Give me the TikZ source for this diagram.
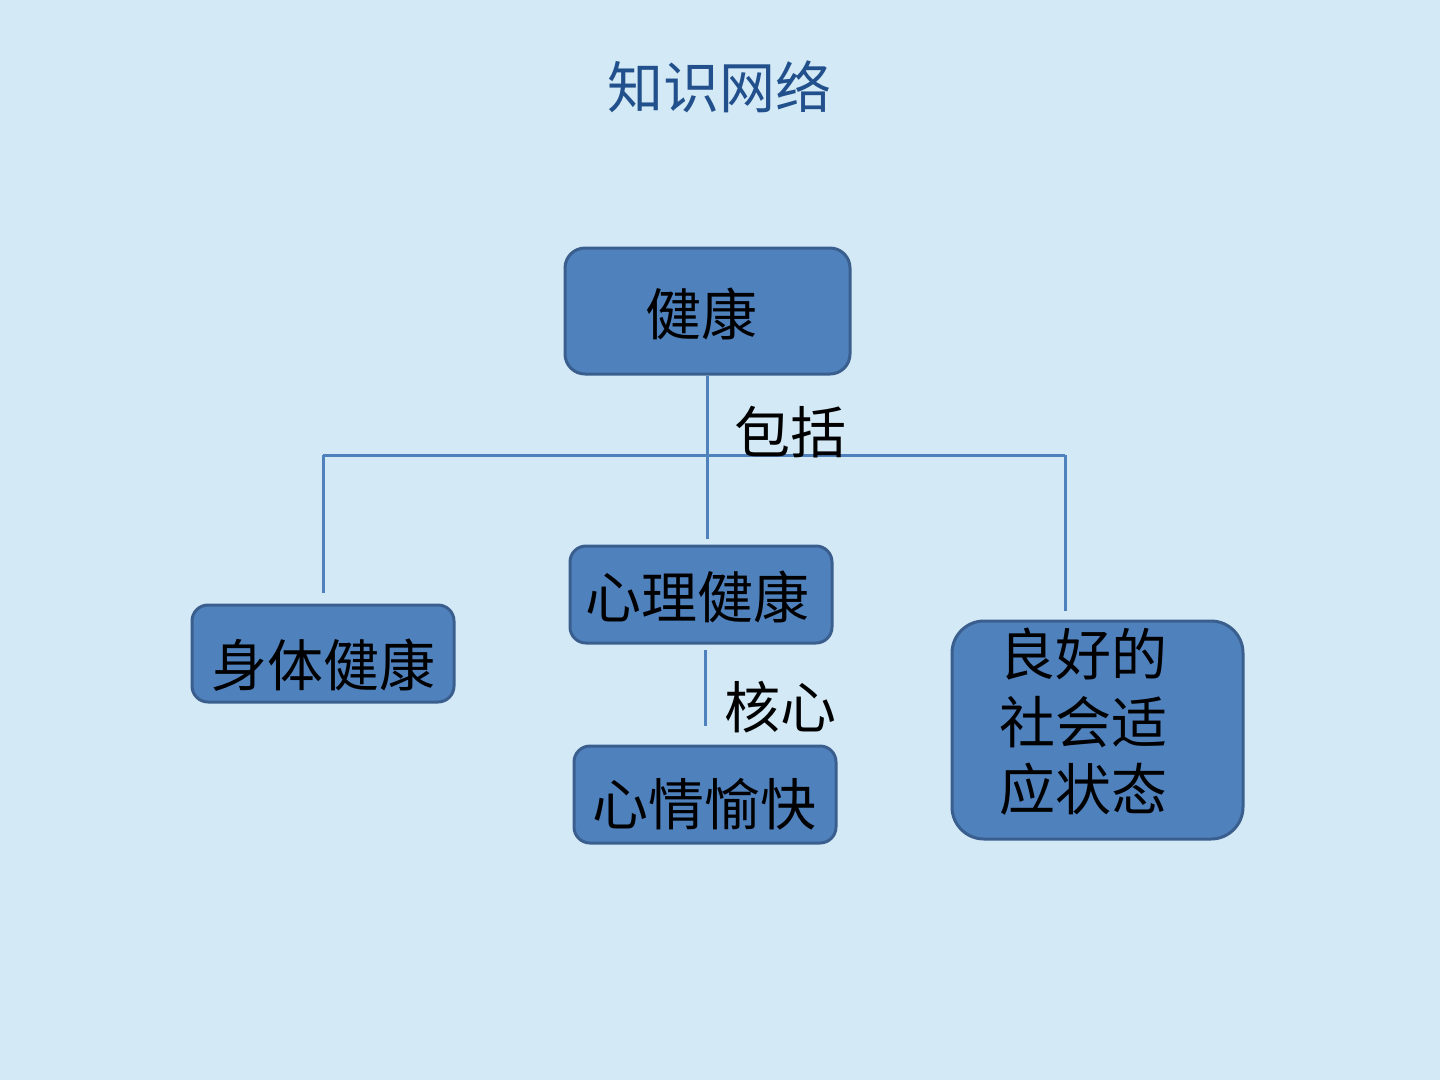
\documentclass[tikz,border=0pt]{standalone}
\usepackage{fontspec}
\newfontfamily\cjk{Noto Sans CJK SC}
\definecolor{bgblue}{HTML}{D3E9F5}
\definecolor{boxfill}{HTML}{4F81BD}
\definecolor{boxline}{HTML}{3A5F8E}
\definecolor{conn}{HTML}{4F81BD}
\definecolor{titleblue}{HTML}{22508C}
\begin{document}
\begin{tikzpicture}[x=1pt,y=-1pt,
  box/.style={draw=boxline, fill=boxfill, line width=3pt, rounded corners=16pt, inner sep=0pt},
  boxtxt/.style={font=\cjk\fontsize{56}{67.5}\selectfont, text=black, inner sep=0pt},
  lbl/.style={font=\cjk\fontsize{56}{67.5}\selectfont, text=black, inner sep=0pt},
  connector/.style={draw=conn, line width=3pt}]
\useasboundingbox (0,0) rectangle (1440,1080);
\fill[bgblue] (0,0) rectangle (1440,1080);

% title
\node[font=\cjk\fontsize{56}{60}\selectfont, text=titleblue, inner sep=0pt] (title) at (719,87) {知识网络};

% boxes
\node[box, minimum width=285pt, minimum height=126pt, rounded corners=20pt] (health) at (707.5,311) {};
\node[boxtxt] (healthT) at (701,314) {健康};

\node[box, minimum width=262pt, minimum height=97pt] (body) at (323,653.5) {};
\node[boxtxt] (bodyT) at (323,665) {身体健康};

\node[box, minimum width=262pt, minimum height=97pt] (mental) at (701,594.5) {};
\node[boxtxt] (mentalT) at (697,597) {心理健康};

\node[box, minimum width=262pt, minimum height=97pt] (happy) at (705,794.5) {};
\node[boxtxt] (happyT) at (704,804) {心情愉快};

\node[box, minimum width=291pt, minimum height=218pt, rounded corners=32pt] (social) at (1097.5,730) {};
\node[boxtxt, align=left] (socialT) at (1083,722) {良好的\\社会适\\应状态};

% connectors
\coordinate (busL) at (323,455);
\coordinate (busR) at (1065,455);
\coordinate (busM) at (707,455);
\draw[connector] (busL) -- (busR);
\draw[connector, shorten >=6pt] (health.south -| busM) -- (busM |- mental.north);
\draw[connector, shorten >=11pt] (busL) -- (body.north);
\draw[connector, shorten >=9pt] (busR) -- (busR |- social.north);
\draw[connector, shorten <=5pt, shorten >=19pt] (mental.south -| happy.north) -- (happy.north);

% labels
\node[lbl] (incl) at (790,432) {包括};
\node[lbl] (core) at (780,707) {核心};
\end{tikzpicture}
\end{document}
